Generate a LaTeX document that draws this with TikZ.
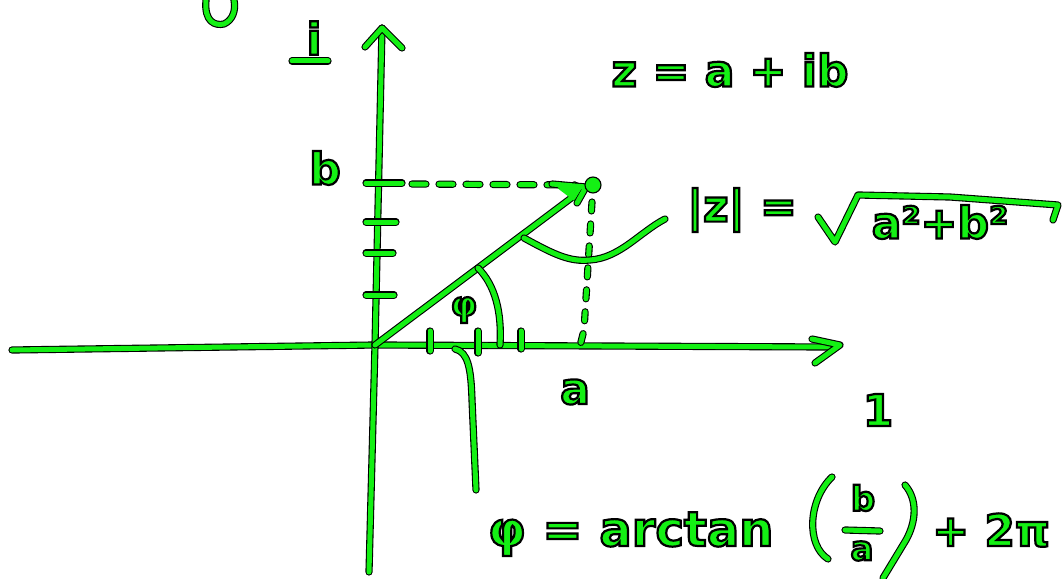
\documentclass[tikz,border=0pt]{standalone}
\usepackage{fontspec}
\setmainfont{DejaVu Sans}
\usetikzlibrary{positioning}
\definecolor{inkgreen}{RGB}{20,240,20}
% green glyphs with a thin black rim (fill + stroke render mode)
\newcommand{\inked}[1]{\special{pdf:literal direct 2 Tr 2.2 w 0 0 0 RG}#1\special{pdf:literal direct 0 Tr}}

\begin{document}
\begin{tikzpicture}[
    x=1pt, y=-1pt,
    pen/.style={draw=black, line width=1.1pt, double=inkgreen, double distance=5pt,
      line cap=round, line join=round},
    dashpen/.style={pen, dash pattern=on 14pt off 13pt},
    hand/.style={text=inkgreen, inner sep=0pt, font=\fontsize{44}{48}\selectfont\bfseries},
    small hand/.style={hand, font=\fontsize{34}{38}\selectfont\bfseries}
  ]
    \useasboundingbox (0,0) rectangle (1062,578);
    \clip (0,0) rectangle (1062,578);

    % axes
    \coordinate (O) at (375,345);
    \coordinate (xstart) at (12,350);
    \coordinate (xend) at (840,345);
    \coordinate (ystart) at (369,572);
    \coordinate (yend) at (382,28);
    \draw[pen] (xstart) -- (O) -- (830,347);
    \draw[pen] (812,339) -- (xend) -- (815,363);
    \draw[pen] (ystart) -- (O) -- (yend);
    \draw[pen] (365,47) -- (yend) -- (402,48);

    % ticks
    \foreach \ty/\tw in {183/36, 222/30, 253/27, 295/28}
      \draw[pen] (366,\ty) -- ++(\tw,0);
    \foreach \tx/\tl in {430/20, 478/22, 521/18}
      \draw[pen] (\tx,331) -- ++(0,\tl);

    % z as a vector
    \coordinate (tip) at (586,187);
    \draw[dashpen] (412,184) -- (575,185);
    \draw[dashpen, dash pattern=on 9pt off 13pt] (592,202) -- (584,330) -- (580,346);
    \draw[pen] (O) -- (tip);
    \fill[inkgreen] (552,184) -- (tip) -- (577,203) -- cycle;
    \draw[pen] (552,184) -- (tip) -- (577,203);
    \fill[inkgreen] (556,186) -- (582,188) -- (575,199) -- cycle;
    \filldraw[fill=inkgreen, draw=black, line width=1.1pt] (593,185) circle (8);

    % angle and pointers
    \draw[pen] (478,268) .. controls (495,285) and (502,312) .. (500,345);
    \draw[pen] (524,238) .. controls (555,255) and (570,262) .. (590,260)
      .. controls (620,258) and (640,232) .. (665,219);
    \draw[pen] (455,349) .. controls (468,352) and (471,368) .. (472,400) -- (476,490);

    % labels
    \node[hand] (ilabel) at (314,38) {\inked{i}};
    \draw[pen] (292,61) -- (328,61);
    \node[hand] (blabel) at (325,168) {\inked{b}};
    \node[small hand] (philabel) at (464,310) {\inked{φ}};
    \node[hand] (alabel) at (575,392) {\inked{a}};
    \node[hand] (onelabel) at (878,410) {\inked{1}};
    \draw[pen] (206,0) .. controls (204,22) and (215,26) .. (224,24)
      .. controls (233,20) and (236,10) .. (234,0);

    % z = a + ib
    \node[hand] (zdef) at (730,70) {\inked{z = a + ib}};

    % |z| = sqrt(a^2+b^2)
    \node[hand] (modz) at (742,210) {\inked{|z| =}};
    \draw[pen] (818,217) -- (835,242) -- (858,195) -- (950,197) -- (1058,205) -- (1053,220);
    \node[hand] (radicand) at (940,222) {\inked{a²+b²}};

    % phi = arctan(b/a) + 2 pi
    \node[hand, anchor=base west, font=\fontsize{48}{52}\selectfont\bfseries] (argdef) at (488,546)
      {\inked{φ = arctan}};
    \draw[pen] (832,477) .. controls (808,500) and (806,545) .. (828,559);
    \node[small hand] (fnum) at (863,498) {\inked{b}};
    \draw[pen] (845,530) -- (880,531);
    \node[small hand] (fden) at (862,551) {\inked{a}};
    \draw[pen] (905,485) .. controls (918,500) and (916,522) .. (906,540) -- (883,578);
    \node[hand, anchor=base west] (period) at (932,546) {\inked{+ 2π}};
  \end{tikzpicture}
\end{document}
